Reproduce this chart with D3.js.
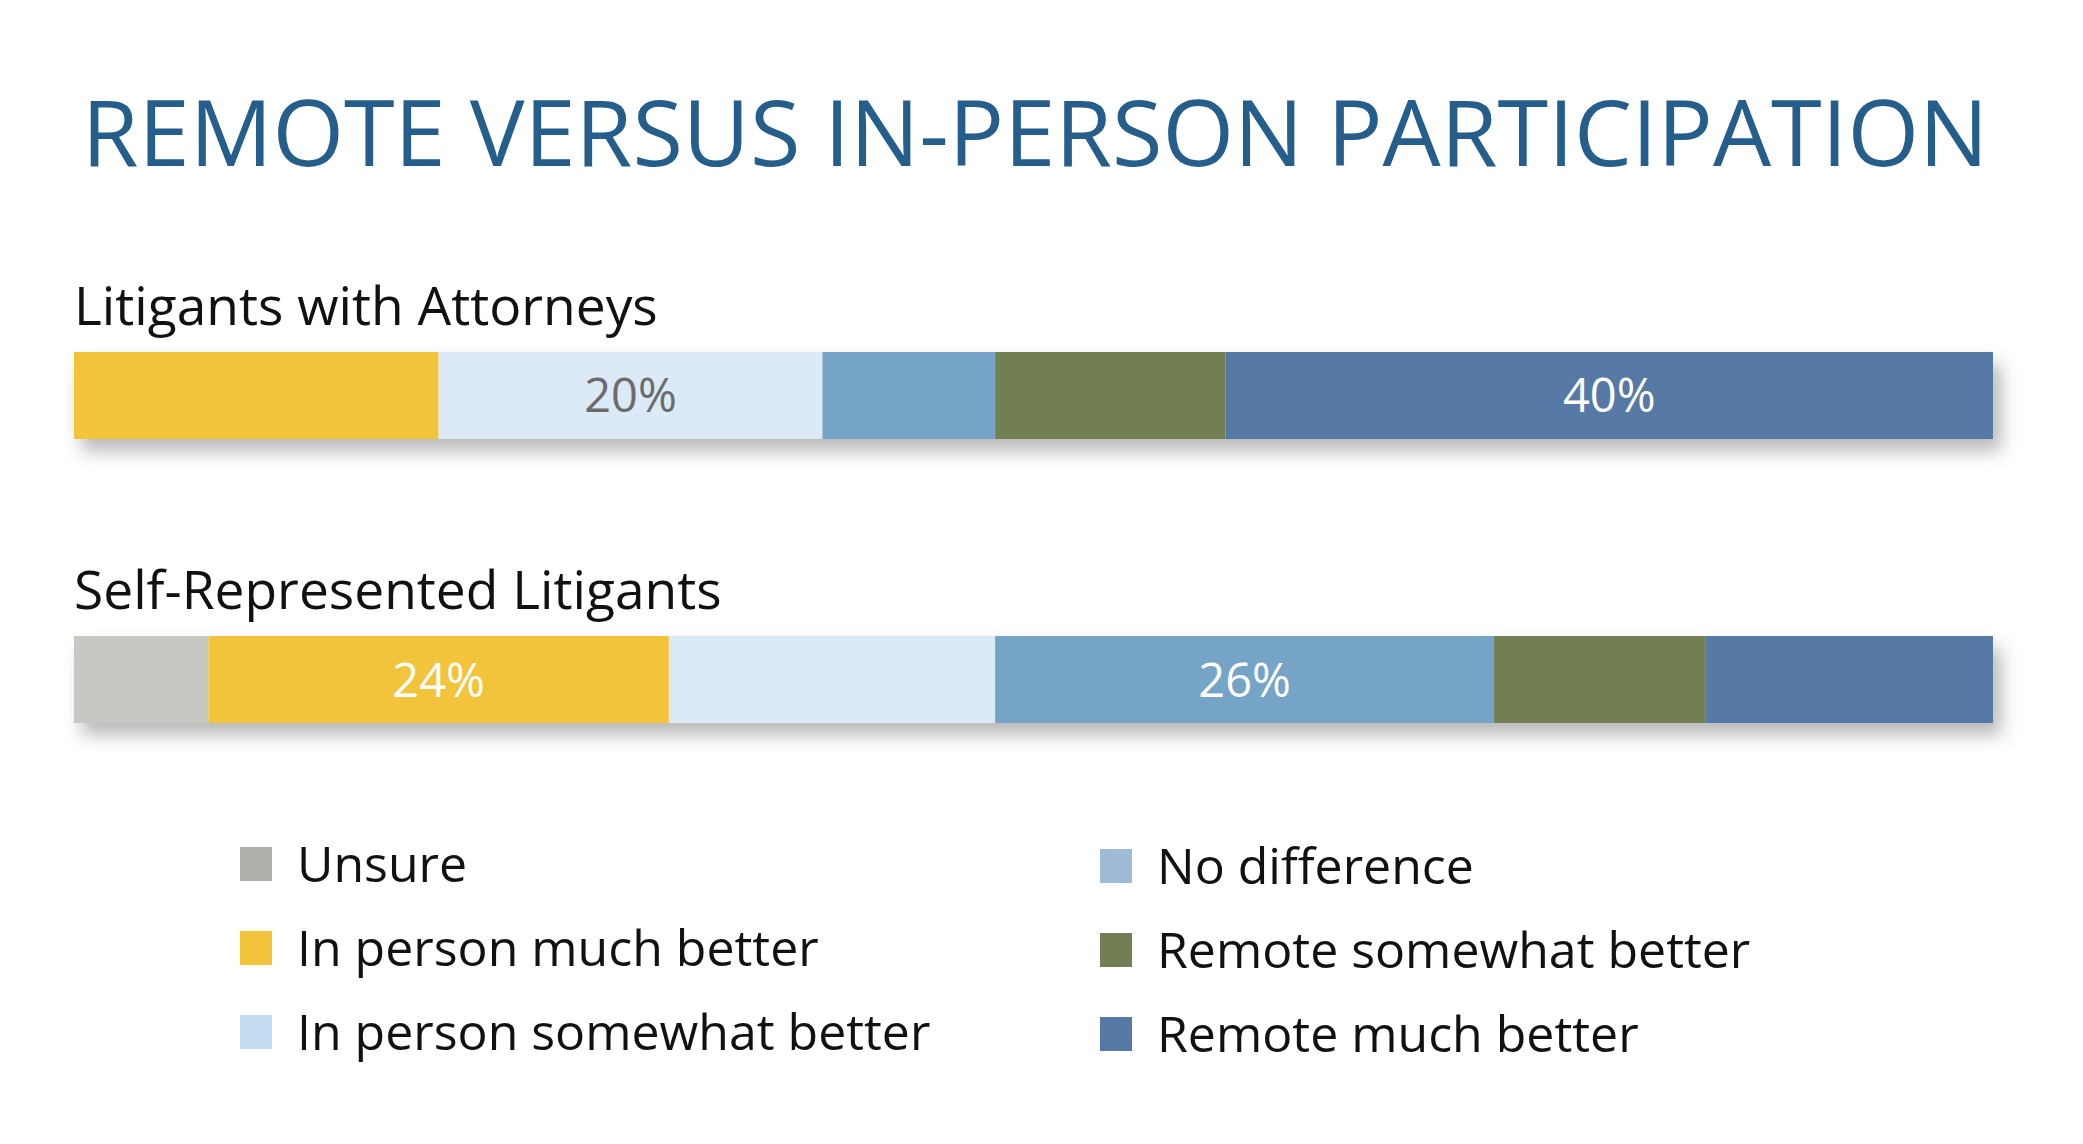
<!DOCTYPE html>
<html><head><meta charset="utf-8">
<script src="https://cdn.jsdelivr.net/npm/d3@7"></script>
<style>
html,body{margin:0;padding:0;background:#fff;}
svg{display:block;font-family:"Open Sans",sans-serif;}
</style></head>
<body><svg id="c" width="2083" height="1144"></svg>
<script>
const title = "REMOTE VERSUS IN-PERSON PARTICIPATION";
const groups = ["Litigants with Attorneys", "Self-Represented Litigants"];
const seriesNames = ["Unsure", "In person much better", "In person somewhat better", "No difference", "Remote somewhat better", "Remote much better"];
const attorneysValues = [0, 19, 20, 9, 12, 40];
const selfRepValues = [7, 24, 17, 26, 11, 15];
const barColors = ["#c8c8c3", "#f2c43c", "#dce9f6", "#75a4c6", "#727f53", "#5679a6"];
const legendColors = ["#b0b0aa", "#f2c43c", "#c5ddf2", "#9fbbd5", "#727f53", "#5679a6"];
const labelColors = ["#fff", "#fff", "#6b6b6b", "#fff", "#fff", "#fff"];

const rows = groups.map((g, i) => {
  const vals = i === 0 ? attorneysValues : selfRepValues;
  const o = {group: g};
  seriesNames.forEach((s, j) => o[s] = vals[j]);
  return o;
});

const svg = d3.select("#c");
const x = d3.scaleLinear().domain([0, 100]).range([74, 1993]);
const y = d3.scaleBand().domain(groups).range([352, 723]).paddingInner(0.6937);

const defs = svg.append("defs");
const f = defs.append("filter").attr("id", "sh").attr("x", "-5%").attr("y", "-50%").attr("width", "110%").attr("height", "220%");
f.append("feDropShadow").attr("dx", 8).attr("dy", 12).attr("stdDeviation", 9)
  .attr("flood-color", "#000").attr("flood-opacity", 0.28);

svg.append("text").attr("x", 1035).attr("y", 166).attr("text-anchor", "middle")
  .attr("font-size", 92).attr("fill", "#255e8a").text(title);

const stack = d3.stack().keys(seriesNames)(rows);

// group titles
svg.selectAll(".gt").data(groups).join("text")
  .attr("x", 74).attr("y", d => y(d) - 27)
  .attr("font-size", 53.3).attr("fill", "#111").text(d => d);

// shadow layer
svg.selectAll(".shadow").data(groups).join("rect")
  .attr("x", x(0)).attr("y", d => y(d)).attr("width", x(100) - x(0)).attr("height", y.bandwidth())
  .attr("fill", "#fff").attr("filter", "url(#sh)");

const layer = svg.selectAll(".layer").data(stack).join("g")
  .attr("fill", (d, i) => barColors[i]);
layer.selectAll("rect").data(d => d).join("rect")
  .attr("x", d => x(d[0])).attr("y", d => y(d.data.group))
  .attr("width", d => x(d[1]) - x(d[0])).attr("height", y.bandwidth());

stack.forEach((s, i) => {
  s.forEach(d => {
    const v = d[1] - d[0];
    if (v >= 20) {
      svg.append("text")
        .attr("x", (x(d[0]) + x(d[1])) / 2)
        .attr("y", y(d.data.group) + y.bandwidth() / 2 + 17)
        .attr("text-anchor", "middle").attr("font-size", 47)
        .attr("fill", labelColors[i]).text(v + "%");
    }
  });
});

// legend
const legX = [240, 1100];
const legY = [847, 931, 1015];
seriesNames.forEach((s, i) => {
  const col = Math.floor(i / 3), row = i % 3;
  const g = svg.append("g").attr("transform", `translate(${legX[col]},${legY[row] + (col ? 2 : 0)})`);
  g.append("rect").attr("width", 32).attr("height", 34).attr("fill", legendColors[i]);
  g.append("text").attr("x", 57).attr("y", 35).attr("font-size", 50).attr("fill", "#111").text(s);
});
</script></body></html>
